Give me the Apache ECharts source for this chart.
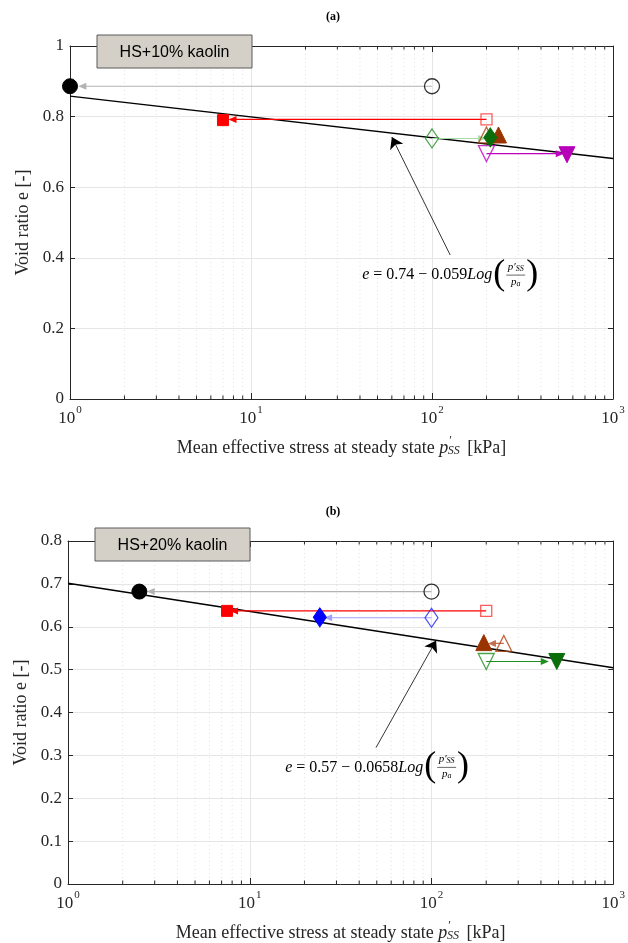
<!DOCTYPE html>
<html><head><meta charset="utf-8">
<script src="https://cdn.jsdelivr.net/npm/echarts@6/dist/echarts.min.js"></script>
<style>html,body{margin:0;padding:0;background:#fff}#c{width:628px;height:943px}</style>
</head><body><div id="c"></div>
<script>
// ---------- Panel (a): HS+10% kaolin ----------
const initPA = [100, 200, 100, 200, 200];
const initEA = [0.886, 0.792, 0.738, 0.748, 0.695];
const ssPA   = [1.0, 7.0, 210, 233, 557];
const ssEA   = [0.886, 0.790, 0.741, 0.748, 0.692];
const arrowEndPA = [1.17, 7.9, 189, 222, 508];
const fitPA = [1, 1000];
const fitEA = [0.858, 0.681];
const eqArrowA = [[126, 0.408], [60, 0.742]];
const eqPosA = [126, 0.351];
const eqCoefA = ['0.74', '0.059'];

// ---------- Panel (b): HS+20% kaolin ----------
const initPB = [100, 200, 100, 250, 200];
const initEB = [0.682, 0.637, 0.621, 0.561, 0.519];
const ssPB   = [2.47, 7.5, 24.3, 194, 489];
const ssEB   = [0.682, 0.637, 0.622, 0.563, 0.519];
const arrowEndPB = [2.85, 8.2, 27, 215, 420];
const fitPB = [1, 1000];
const fitEB = [0.7016, 0.5042];
const eqArrowB = [[49.5, 0.318], [106, 0.568]];
const eqPosB = [50.2, 0.272];
const eqCoefB = ['0.57', '0.0658'];

// axis ticks
const xMinor = [2,3,4,5,6,7,8,9,20,30,40,50,60,70,80,90,200,300,400,500,600,700,800,900];
const yTicksA = [0, 0.2, 0.4, 0.6, 0.8, 1];
const yTicksB = [0, 0.1, 0.2, 0.3, 0.4, 0.5, 0.6, 0.7, 0.8];

// ---------- styles ----------
const stylesA = [
  {sym:'circle', size:15, open:'#000', fill:'#000', line:'#b3b3b3', layer:0},
  {sym:'rect', size:11, open:'#ff3333', fill:'#ff0000', line:'#ff0000', layer:1},
  {sym:'diamond', size:[13,19], open:'#1f8f1f', fill:'#0b6e0b', line:'#a9dba9', layer:4},
  {sym:'triangle', size:16, open:'#b0400d', fill:'#993300', line:'#b0400d', layer:3},
  {sym:'triangle', rot:180, size:16, open:'#c000c0', fill:'#b800b8', line:'#c000c0', layer:2}
];
const stylesB = [
  {sym:'circle', size:15, open:'#000', fill:'#000', line:'#b3b3b3', layer:0},
  {sym:'rect', size:11, open:'#ff3333', fill:'#ff0000', line:'#ff0000', layer:1},
  {sym:'diamond', size:[13,19], open:'#2020ff', fill:'#0000ff', line:'#a0a0ff', layer:2},
  {sym:'triangle', size:16, open:'#b0400d', fill:'#993300', line:'#c07050', layer:3},
  {sym:'triangle', rot:180, size:16, open:'#1f8f1f', fill:'#0b6e0b', line:'#1f8f1f', layer:4}
];

const SERIF = '"Liberation Serif", "DejaVu Serif", serif';
const SANS = '"Liberation Sans", Arial, sans-serif';
const axisColor = '#262626';

const chart = echarts.init(document.getElementById('c'), null, {renderer:'canvas'});

const grids = [
  {left:70, right:15, top:46, height:353},
  {left:68, right:13, top:541, height:350}
];

function supLabel(v) {
  const e = Math.round(Math.log10(v));
  return '{b|10}{s|' + e + '}';
}
const xRich = {
  b: {fontFamily: SERIF, fontSize: 17, color: axisColor, lineHeight: 22, verticalAlign:'bottom'},
  s: {fontFamily: SERIF, fontSize: 11, color: axisColor, lineHeight: 22, verticalAlign:'top', padding:[0,0,0,1]}
};
const nameRich = {
  n: {fontFamily: SERIF, fontSize: 18, color: axisColor, lineHeight: 22, verticalAlign:'bottom'},
  i: {fontFamily: SERIF, fontSize: 18, fontStyle:'italic', color: axisColor, lineHeight: 22, verticalAlign:'bottom'},
  p: {fontFamily: SERIF, fontSize: 12, color: axisColor, lineHeight: 22, verticalAlign:'top', padding:[0,0,0,1]},
  sub: {fontFamily: SERIF, fontSize: 12, fontStyle:'italic', color: axisColor, lineHeight: 16, verticalAlign:'bottom', padding:[10,3,0,-4]}
};
const xName = '{n|Mean effective stress at steady state }{i|p}{p|′}{sub|SS}{n| [kPa]}';

function makeX(gi, pos) {
  const bottom = pos === 'bottom';
  return {
    type:'log', logBase:10, min:1, max:1000, gridIndex:gi, position:pos,
    axisLine:{show:true, onZero:false, lineStyle:{color:axisColor, width:1}},
    axisTick:{show:true, inside:true, length:6, lineStyle:{color:axisColor}},
    axisLabel:{show:bottom, formatter: supLabel, rich: xRich, margin:6},
    splitLine:{show:bottom, lineStyle:{color:'#e6e6e6', width:1}},
    name: bottom ? xName : '', nameLocation:'middle', nameGap:36,
    nameTextStyle:{rich:nameRich}
  };
}
function makeY(gi, pos, ticks) {
  const left = pos === 'left';
  return {
    type:'value', min:ticks[0], max:ticks[ticks.length-1], interval:ticks[1]-ticks[0],
    gridIndex:gi, position:pos,
    axisLine:{show:true, onZero:false, lineStyle:{color:axisColor, width:1}},
    axisTick:{show:true, inside:true, length:5, lineStyle:{color:axisColor}},
    axisLabel:{show:left, fontFamily:SERIF, fontSize:17, color:axisColor, margin:6,
      formatter: v => String(+v.toFixed(2))},
    splitLine:{show:left, lineStyle:{color:'#e6e6e6', width:1}},
    name: left ? 'Void ratio e [-]' : '', nameLocation:'middle', nameGap:38, nameRotate:90,
    nameTextStyle:{fontFamily:SERIF, fontSize:18, color:axisColor}
  };
}

function minorSeries(gi) {
  return {
    type:'custom', xAxisIndex:gi*2, yAxisIndex:gi*2, z:1, silent:true,
    data: xMinor.map(v => [v]),
    renderItem: function(params, api) {
      const cs = params.coordSys;
      const x = api.coord([api.value(0), 0.1])[0];
      const top = cs.y, bot = cs.y + cs.height;
      return {type:'group', children:[
        {type:'line', shape:{x1:x, y1:top, x2:x, y2:bot}, style:{stroke:'#d9d9d9', lineWidth:0.8, lineDash:[1,3]}},
        {type:'line', shape:{x1:x, y1:bot, x2:x, y2:bot-3.5}, style:{stroke:axisColor, lineWidth:1}},
        {type:'line', shape:{x1:x, y1:top, x2:x, y2:top+3.5}, style:{stroke:axisColor, lineWidth:1}}
      ]};
    }
  };
}

function panelSeries(gi, initP, initE, ssP, ssE, arrEnd, styles, fitP, fitE, eqArr) {
  const ax = {xAxisIndex:gi*2, yAxisIndex:gi*2};
  const out = [];
  // fit line
  out.push(Object.assign({type:'line', data:[[fitP[0], fitE[0]], [fitP[1], fitE[1]]],
    symbol:'none', lineStyle:{color:'#000', width:1.5}, z:3, silent:true}, ax));
  // arrows initial -> steady state (line + arrowhead)
  initP.forEach((p, i) => {
    out.push(Object.assign({type:'line', z:4, silent:true, symbol:'none',
      lineStyle:{color:styles[i].line, width:1.2},
      data:[[p, initE[i]], [arrEnd[i], initE[i]]]}, ax));
  });
  out.push(Object.assign({type:'scatter', z:4, silent:true,
    data: initP.map((p,i) => ({value:[arrEnd[i], initE[i]], symbol:'triangle', symbolSize:[7,8],
      symbolRotate: arrEnd[i] < p ? 90 : -90,
      itemStyle:{color:styles[i].line, opacity:1}}))}, ax));
  // annotation arrow
  out.push(Object.assign({type:'lines', coordinateSystem:'cartesian2d', z:4, silent:true,
    symbol:['none','arrow'], symbolSize:[0,11],
    lineStyle:{color:'#000', width:0.8, opacity:1}, itemStyle:{color:'#000'},
    data:[{coords:eqArr}]}, ax));
  // initial (open) markers
  out.push(Object.assign({type:'scatter', z:5, silent:true,
    data: initP.map((p,i) => ({value:[p, initE[i]], symbol:styles[i].sym,
      symbolSize:styles[i].size, symbolRotate:styles[i].rot||0,
      itemStyle:{color:'rgba(255,255,255,0)', borderColor:styles[i].open, borderWidth:1.3}}))}, ax));
  // steady state (filled) markers, drawn in layer order
  const filled = ssP.map((p,i) => ({layer:styles[i].layer, value:[p, ssE[i]], symbol:styles[i].sym,
      symbolSize:styles[i].size, symbolRotate:styles[i].rot||0,
      itemStyle:{color:styles[i].fill, borderColor:styles[i].fill, borderWidth:1, opacity:1}}));
  filled.sort((a,b) => a.layer - b.layer);
  out.push(Object.assign({type:'scatter', z:6, silent:true, data: filled}, ax));
  out.push(minorSeries(gi));
  return out;
}

chart.setOption({
  animation:false,
  grid: grids,
  xAxis: [makeX(0,'bottom'), makeX(0,'top'), makeX(1,'bottom'), makeX(1,'top')],
  yAxis: [makeY(0,'left',yTicksA), makeY(0,'right',yTicksA), makeY(1,'left',yTicksB), makeY(1,'right',yTicksB)],
  series: [].concat(
    panelSeries(0, initPA, initEA, ssPA, ssEA, arrowEndPA, stylesA, fitPA, fitEA, eqArrowA),
    panelSeries(1, initPB, initEB, ssPB, ssEB, arrowEndPB, stylesB, fitPB, fitEB, eqArrowB)
  )
});

// ---------- equation + labels via graphic ----------
const cv = document.createElement('canvas').getContext('2d');
function tw(text, font) { cv.font = font; return cv.measureText(text).width; }

function equation(gi, pos, coef) {
  const c = chart.convertToPixel({gridIndex:gi}, pos);
  const fs = 16;
  const fN = fs + 'px ' + SERIF, fI = 'italic ' + fs + 'px ' + SERIF;
  const parts = [
    {t:'e', f:fI}, {t:' = ' + coef[0] + ' − ' + coef[1], f:fN}, {t:'Log', f:fI}
  ];
  const fsP = 36, fP = fsP + 'px ' + SERIF;
  const fsF = 11, fFI = 'italic ' + fsF + 'px ' + SERIF, fFS = 'italic 8px ' + SERIF;
  const wMain = parts.reduce((s,p) => s + tw(p.t, p.f), 0);
  const wPar = tw('(', fP);
  const wNum = tw('p′', fFI) + tw('SS', fFS);
  const wDen = tw('p', fFI) + tw('a', fFS);
  const wFrac = Math.max(wNum, wDen) + 3;
  const W = wMain + wPar * 2 + wFrac + 3;
  let x = c[0] - W/2;
  const y = c[1];
  const els = [];
  const T = (text, xx, yy, font, align) => ({type:'text', z:100, silent:true,
    style:{text, x:xx, y:yy, font, fill:'#000', align:align||'left', verticalAlign:'middle',
      textAlign:align||'left', textVerticalAlign:'middle'}});
  parts.forEach(p => { els.push(T(p.t, x, y, p.f)); x += tw(p.t, p.f); });
  x += 1;
  els.push(T('(', x, y - 1, fP)); x += wPar + 1;
  const fx = x + wFrac/2;
  let nx = fx - wNum/2;
  els.push(T('p′', nx, y - 8, fFI)); nx += tw('p′', fFI);
  els.push(T('SS', nx, y - 6, fFS));
  els.push({type:'line', z:100, silent:true, shape:{x1:x, y1:y, x2:x + wFrac, y2:y}, style:{stroke:'#000', lineWidth:0.6}});
  let dx = fx - wDen/2;
  els.push(T('p', dx, y + 7, fFI)); dx += tw('p', fFI);
  els.push(T('a', dx, y + 9, fFS));
  x += wFrac + 1;
  els.push(T(')', x, y - 1, fP));
  return els;
}

function legendBox(left, top, w, h, text) {
  return [
    {type:'rect', z:100, silent:true, shape:{x:left, y:top, width:w, height:h},
      style:{fill:'#d4d0c8', stroke:'#5a5a5a', lineWidth:1}},
    {type:'text', z:101, silent:true, style:{text, x:left + w/2, y:top + h/2 + 1, font:'16px ' + SANS, fill:'#000',
      align:'center', verticalAlign:'middle', textAlign:'center', textVerticalAlign:'middle'}}
  ];
}
function panelTitle(x, y, text) {
  return {type:'text', z:100, silent:true, style:{text, x, y, font:'bold 12px ' + SERIF, fill:'#000',
    align:'center', verticalAlign:'middle', textAlign:'center', textVerticalAlign:'middle'}};
}

chart.setOption({
  graphic: [].concat(
    equation(0, eqPosA, eqCoefA),
    equation(1, eqPosB, eqCoefB),
    legendBox(97, 35, 155, 33, 'HS+10% kaolin'),
    legendBox(95, 528, 155, 33, 'HS+20% kaolin'),
    [panelTitle(333, 17, '(a)'),
     panelTitle(333, 512, '(b)')]
  )
});
</script></body></html>
